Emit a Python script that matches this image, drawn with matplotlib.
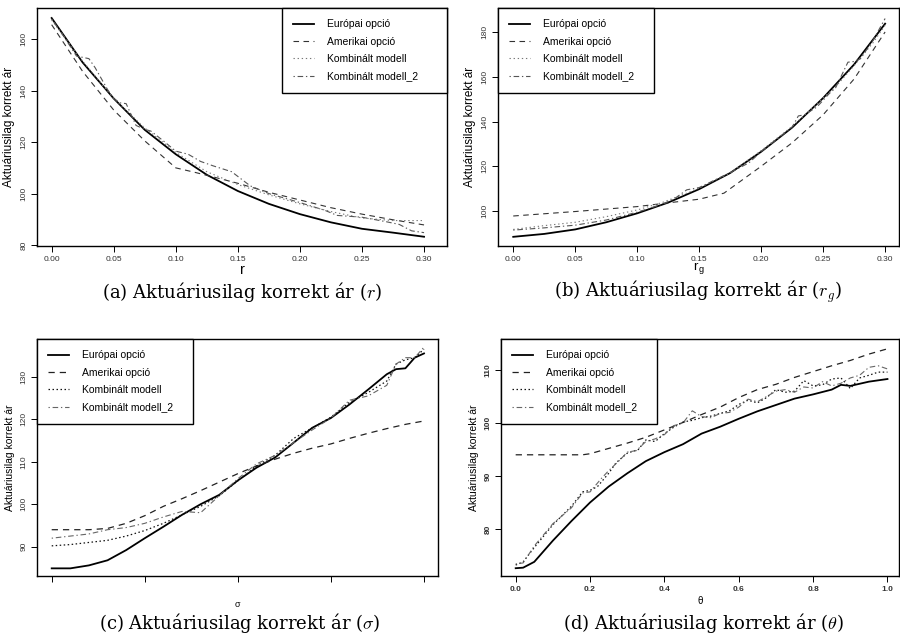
import numpy as np
import matplotlib
matplotlib.use('Agg')
import matplotlib.pyplot as plt

plt.rcParams['font.family'] = ['Liberation Sans', 'DejaVu Sans']
plt.rcParams['mathtext.fontset'] = 'cm'

labels = ['Európai opció', 'Amerikai opció', 'Kombinált modell', 'Kombinált modell_2']

# (a) r
a_x_eu = [0, .025, .05, .075, .10, .125, .15, .175, .20, .225, .25, .275, .30]
a_eu = [168.3, 151.0, 137.0, 124.8, 115.3, 107.3, 101.0, 96.0, 92.0, 88.8, 86.3, 84.8, 83.2]
a_x_am = [0, .025, .05, .075, .10, .115, .13, .15, .175, .20, .225, .25, .275, .30]
a_am = [165.7, 147.5, 132.5, 120.5, 110.0, 108.3, 106.5, 104.0, 100.5, 97.5, 94.5, 92.0, 89.8, 87.8]
a_x_k1 = [0, .025, .05, .075, .10, .125, .15, .175, .20, .225, .25, .275, .30]
a_k1 = [167.5, 151.5, 137.0, 125.5, 116.0, 108.5, 103.5, 99.5, 96.0, 93.0, 90.5, 89.5, 89.5]
a_x_k2 = [0, .01, .02, .03, .035, .045, .05, .055, .06, .068, .075, .08, .09, .10, .11, .12, .13,
          .145, .16, .175, .20, .22, .23, .25, .27, .28, .29, .30]
a_k2 = [168.0, 161.0, 153.5, 152.5, 149.0, 140.5, 137.0, 135.3, 135.0, 126.5, 125.0, 124.3, 120.5,
        116.5, 115.3, 112.5, 110.8, 108.5, 103.0, 100.0, 96.5, 93.5, 91.5, 90.8, 89.0, 88.0, 85.5, 84.8]

# (b) r_g
b_x_eu = [0, .025, .05, .075, .10, .125, .15, .175, .20, .225, .25, .275, .30]
b_eu = [88.5, 89.8, 91.8, 95.0, 99.0, 103.8, 109.8, 117.0, 126.5, 137.3, 150.5, 165.5, 183.7]
b_x_am = [0, .05, .10, .13, .15, .17, .19, .20, .225, .25, .275, .30]
b_am = [97.8, 99.8, 102.0, 104.0, 105.3, 108.0, 116.0, 120.0, 130.5, 143.0, 159.0, 180.0]
b_x_k1 = [0, .025, .05, .075, .10, .12, .14, .15, .175, .20, .225, .25, .26, .275, .29, .30]
b_k1 = [91.8, 93.5, 95.0, 97.5, 100.5, 103.8, 108.0, 110.3, 117.0, 127.0, 137.8, 150.5, 155.5,
        165.0, 175.0, 183.0]
b_x_k2 = [0, .025, .05, .075, .10, .12, .13, .14, .145, .15, .175, .19, .20, .225, .23, .235,
          .245, .255, .26, .27, .275, .28, .29, .30]
b_k2 = [91.5, 92.5, 93.7, 96.0, 99.5, 103.0, 105.5, 109.5, 110.0, 110.5, 117.2, 121.5, 126.5,
        137.5, 142.5, 143.0, 146.5, 152.5, 155.0, 166.5, 166.8, 168.0, 176.0, 186.0]

# (c) sigma
c_x = [0, .05, .10, .15, .20, .25, .30, .35, .40, .45, .50, .55, .60, .65, .70, .75, .80, .85,
       .90, .925, .95, .975, 1.0]
c_eu = [84.9, 84.9, 85.6, 86.8, 89.2, 92.0, 94.7, 97.5, 100.0, 102.2, 105.6, 108.6, 111.0, 114.5,
        118.0, 120.3, 123.5, 127.0, 130.6, 131.8, 132.0, 134.5, 135.5]
c_am = [94.0, 94.0, 94.0, 94.3, 95.5, 97.3, 99.5, 101.3, 103.2, 105.2, 107.2, 109.0, 110.6, 112.0,
        113.2, 114.2, 115.5, 116.7, 117.8, 118.3, 118.8, 119.2, 119.6]
c_k1 = [90.2, 90.5, 91.0, 91.5, 92.5, 93.8, 95.5, 97.5, 99.5, 102.0, 105.5, 109.0, 111.5, 115.5,
        118.0, 120.5, 124.0, 126.3, 129.0, 133.0, 134.0, 134.5, 136.5]
c_k2 = [92.0, 92.5, 93.0, 94.0, 94.5, 95.5, 97.0, 98.3, 98.0, 102.0, 106.0, 109.5, 111.5, 114.5,
        117.5, 120.3, 124.5, 125.5, 128.0, 133.0, 134.5, 134.5, 137.0]
c_ticks = [0, .25, .5, .75, 1.0]

# (d) theta
d_x_eu = [0, .02, .05, .10, .15, .20, .25, .30, .35, .40, .45, .50, .55, .60, .65, .70, .75, .80,
          .85, .875, .90, .95, 1.0]
d_eu = [72.6, 72.7, 73.8, 77.8, 81.5, 85.0, 88.0, 90.5, 92.8, 94.5, 96.0, 98.0, 99.3, 100.8,
        102.2, 103.4, 104.6, 105.4, 106.3, 107.2, 107.0, 107.8, 108.3]
d_x_am = [0, .05, .10, .15, .18, .20, .25, .30, .35, .40, .45, .50, .55, .60, .65, .70, .75, .80,
          .85, .90, .95, 1.0]
d_am = [94.0, 94.0, 94.0, 94.0, 94.0, 94.2, 95.2, 96.2, 97.3, 98.7, 100.1, 101.6, 103.0, 104.8,
        106.3, 107.3, 108.6, 109.7, 110.8, 111.8, 113.0, 114.0]
d_x_k1 = [0, .02, .05, .10, .15, .18, .20, .22, .25, .27, .30, .33, .35, .375, .40, .425, .45,
          .475, .50, .525, .55, .575, .60, .625, .65, .675, .70, .725, .75, .775, .80, .825, .85,
          .875, .90, .925, .95, .975, 1.0]
d_k1 = [73.2, 73.8, 76.5, 80.8, 84.3, 87.0, 87.3, 88.0, 90.5, 92.5, 94.3, 95.0, 96.8, 96.5, 98.0,
        99.2, 100.2, 100.5, 101.0, 101.3, 101.8, 102.3, 103.5, 104.3, 103.8, 104.8, 106.3, 105.8,
        106.0, 108.0, 107.0, 107.2, 108.3, 108.5, 106.5, 108.5, 109.0, 109.6, 109.6]
d_x_k2 = [0, .02, .05, .10, .15, .18, .20, .23, .25, .28, .30, .325, .35, .375, .40, .425, .45,
          .475, .50, .525, .55, .575, .60, .625, .65, .675, .70, .725, .75, .775, .80, .825, .85,
          .875, .90, .925, .95, .975, 1.0]
d_k2 = [73.4, 73.6, 76.8, 81.0, 84.0, 86.8, 87.0, 89.5, 91.0, 93.0, 94.5, 94.8, 96.5, 97.0, 97.8,
        99.5, 100.0, 102.3, 101.2, 101.0, 101.8, 102.0, 103.0, 104.5, 104.0, 105.0, 106.0, 106.3,
        105.8, 106.8, 106.6, 107.8, 107.0, 107.5, 108.5, 109.0, 110.5, 110.8, 110.2]

W, H = 900, 634
fig = plt.figure(figsize=(9, 6.34), dpi=100)


def box(l, t, r, b):
    return [l / W, 1 - b / H, (r - l) / W, (b - t) / H]


styles_light = [dict(color='black', lw=1.3, ls='-'),
                dict(color='#333333', lw=0.8, ls=(0, (5, 4))),
                dict(color='#777777', lw=0.8, ls=(0, (1.2, 2.5))),
                dict(color='#555555', lw=0.8, ls=(0, (1.2, 2.5, 5, 2.5)))]
styles_dark = [dict(color='black', lw=1.3, ls='-'),
               dict(color='#222222', lw=0.9, ls=(0, (5, 4))),
               dict(color='#111111', lw=0.9, ls=(0, (1.2, 2.0))),
               dict(color='#666666', lw=0.8, ls=(0, (1.2, 2.5, 5, 2.5)))]


def panel(rect, series, styles, xlim, ylim, xticks, yticks, xlab, xlab_size, leg_x, leg_w,
          xfmt=None, bold=False, ylab_size=8.5, show_xlabels=True, xlabpad=2):
    ax = fig.add_axes(rect)
    for (xs, ys), st, lab in zip(series, styles, labels):
        ax.plot(xs, ys, label=lab, **st)
    ax.set_xlim(xlim)
    ax.set_ylim(ylim)
    ax.set_xticks(xticks)
    ax.set_yticks(yticks)
    weight = 'bold' if bold else 'normal'
    if show_xlabels:
        ax.set_xticklabels([xfmt.format(v) for v in xticks], fontsize=6, color='#333333',
                           fontweight=weight)
    else:
        ax.set_xticklabels([])
    ax.set_yticklabels([str(v) for v in yticks], fontsize=6, color='#333333',
                       fontweight=weight, rotation=90, va='center')
    ax.tick_params(direction='out', length=4, width=0.7, pad=3)
    for sp in ax.spines.values():
        sp.set_linewidth(1.0)
    ax.set_xlabel(xlab, fontsize=xlab_size, labelpad=xlabpad)
    ax.set_ylabel('Aktuáriusilag korrekt ár', fontsize=ylab_size, labelpad=4)
    leg = ax.legend(loc='upper left', bbox_to_anchor=(leg_x, 0, leg_w, 1.0), mode='expand',
                    borderaxespad=0, fontsize=7.5, frameon=True, fancybox=False,
                    handlelength=2.0, handletextpad=1.2, labelspacing=0.7, borderpad=1.1)
    leg.get_frame().set_edgecolor('black')
    leg.get_frame().set_linewidth(1.0)
    leg.get_frame().set_alpha(1)
    return ax


panel(box(37, 8, 447, 246),
      [(a_x_eu, a_eu), (a_x_am, a_am), (a_x_k1, a_k1), (a_x_k2, a_k2)], styles_light,
      (-0.0118, 0.3185), (79.6, 172.2), [0, .05, .10, .15, .20, .25, .30],
      [80, 100, 120, 140, 160], 'r', 10.5, 0.5976, 0.4024, xfmt='{:.2f}', xlabpad=0)

panel(box(498, 8, 899, 246),
      [(b_x_eu, b_eu), (b_x_am, b_am), (b_x_k1, b_k1), (b_x_k2, b_k2)], styles_light,
      (-0.0123, 0.3112), (84.4, 190.7), [0, .05, .10, .15, .20, .25, .30],
      [100, 120, 140, 160, 180], r'r$_\mathregular{g}$', 9.5, 0.0, 0.389, xfmt='{:.2f}',
      xlabpad=-1)

panel(box(37, 339, 438, 576),
      [(c_x, c_eu), (c_x, c_am), (c_x, c_k1), (c_x, c_k2)], styles_dark,
      (-0.0395, 1.0376), (83.1, 138.9), c_ticks, [90, 100, 110, 120, 130],
      'σ', 6.5, 0.0, 0.389, ylab_size=7.5, show_xlabels=False, xlabpad=10)

panel(box(501, 339, 899, 576),
      [(d_x_eu, d_eu), (d_x_am, d_am), (d_x_k1, d_k1), (d_x_k2, d_k2)], styles_dark,
      (-0.0395, 1.031), (71.13, 115.85), [0, .2, .4, .6, .8, 1.0], [80, 90, 100, 110],
      'θ', 7, 0.0, 0.392, xfmt='{:.1f}', bold=True, ylab_size=7.5)

cap = dict(fontsize=13, family='DejaVu Serif', ha='center', va='center')
fig.text(242 / W, 1 - 292 / H, r'(a) Aktuáriusilag korrekt ár ($r$)', **cap)
fig.text(698 / W, 1 - 292 / H, r'(b) Aktuáriusilag korrekt ár ($r_g$)', **cap)
fig.text(240 / W, 1 - 623 / H, r'(c) Aktuáriusilag korrekt ár ($\sigma$)', **cap)
fig.text(704 / W, 1 - 623 / H, r'(d) Aktuáriusilag korrekt ár ($\theta$)', **cap)

fig.savefig('out.png', dpi=100)
